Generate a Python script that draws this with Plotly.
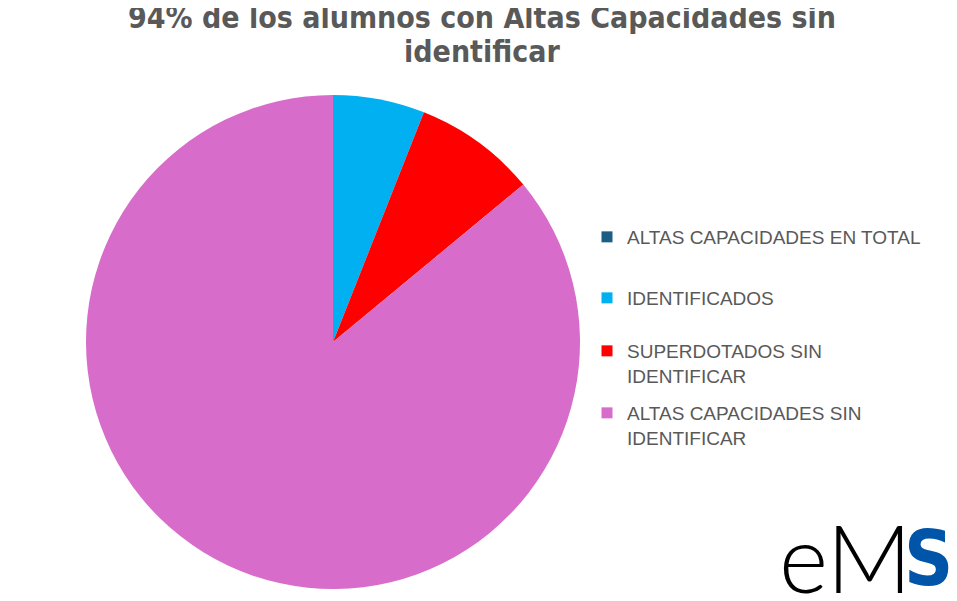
import plotly.graph_objects as go

labels = ["ALTAS CAPACIDADES EN TOTAL", "IDENTIFICADOS",
          "SUPERDOTADOS SIN IDENTIFICAR", "ALTAS CAPACIDADES SIN IDENTIFICAR"]
legend_labels = ["ALTAS CAPACIDADES EN TOTAL", "IDENTIFICADOS",
                 "SUPERDOTADOS SIN<br>IDENTIFICAR", "ALTAS CAPACIDADES SIN<br>IDENTIFICAR"]
values = [0, 6, 8, 86]
colors = ["#1B5E86", "#00B0F0", "#FF0000", "#D76CCA"]
title_lines = ["94% de los alumnos con Altas Capacidades sin", "identificar"]
logo_dark = "eM"
logo_blue = "S"

W, H = 957, 601
legend_tops = [210, 271, 324, 386]
legend_names = ["legend", "legend2", "legend3", "legend4"]


def py(y_from_top):
    return 1 - y_from_top / H


fig = go.Figure()
fig.add_trace(go.Pie(
    labels=labels, values=values, sort=False, direction="clockwise", rotation=0,
    marker=dict(colors=colors, line=dict(width=0)),
    textinfo="none", hoverinfo="label+percent", showlegend=False,
    domain=dict(x=[78 / W, 572 / W], y=[py(581), py(87)]),
))
for lab, col, lg in zip(legend_labels, colors, legend_names):
    fig.add_trace(go.Scatter(
        x=[None], y=[None], mode="markers", name=lab, legend=lg,
        marker=dict(symbol="square", size=11, color=col),
        showlegend=True,
    ))

leg_font = dict(family="Liberation Sans, Arial", size=19, color="#595959")
layout_legends = {}
for lg, top in zip(legend_names, legend_tops):
    layout_legends[lg] = dict(x=579 / W, xanchor="left", y=py(top), yanchor="top",
                              font=leg_font, itemwidth=30, valign="top",
                              bgcolor="rgba(0,0,0,0)")

title_font = dict(family="DejaVu Sans Condensed, Liberation Sans", size=30,
                  color="#595959", weight="bold")
fig.update_layout(
    width=W, height=H,
    margin=dict(l=0, r=0, t=0, b=0, autoexpand=False),
    paper_bgcolor="white", plot_bgcolor="white",
    xaxis=dict(visible=False), yaxis=dict(visible=False),
    annotations=[
        dict(text=title_lines[0], x=474 / W, xanchor="center", y=py(10), yanchor="middle",
             xref="paper", yref="paper", showarrow=False, font=title_font),
        dict(text=title_lines[1], x=474 / W, xanchor="center", y=py(43), yanchor="middle",
             xref="paper", yref="paper", showarrow=False, font=title_font),
        dict(text=logo_dark, x=906 / W, xanchor="right", y=py(548), yanchor="middle",
             xref="paper", yref="paper", showarrow=False,
             font=dict(family="Lato, Liberation Sans", size=94, color="#000000", weight=300)),
        dict(text=logo_blue, x=947 / W, xanchor="right", y=py(550), yanchor="middle",
             xref="paper", yref="paper", showarrow=False,
             font=dict(family="DejaVu Sans Condensed, Liberation Sans", size=76,
                       color="#0055A8", weight="bold")),
    ],
    **layout_legends,
)
fig.write_html("out.html")
